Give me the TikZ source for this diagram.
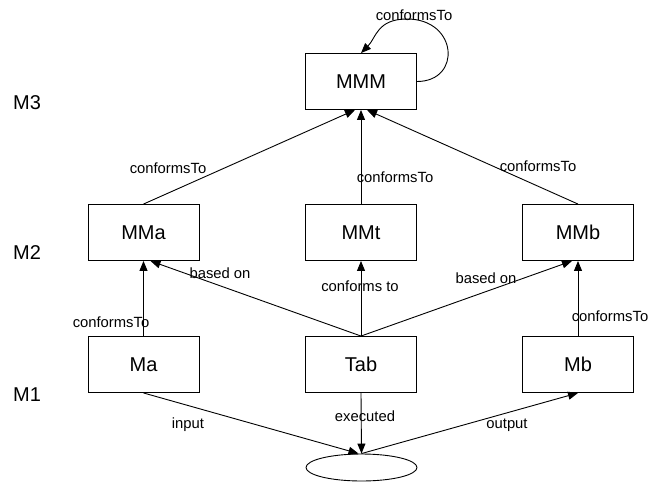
\documentclass[tikz,border=0pt]{standalone}
\usepackage{fontspec}
\setmainfont{Liberation Sans}
\usetikzlibrary{arrows.meta,shapes.geometric}

\tikzset{
  model/.style={draw, line width=0.9pt, minimum width=111pt, minimum height=56pt,
    inner sep=0pt, font=\fontsize{20}{24}\selectfont},
  level/.style={inner sep=0pt, font=\fontsize{20}{24}\selectfont},
  lbl/.style={inner sep=0pt, font=\fontsize{14.8}{17}\selectfont},
  rel/.style={line width=0.9pt, -{Triangle[length=10pt,width=8pt]}},
}

\begin{document}
\begin{tikzpicture}[x=1pt,y=-1pt]
  \useasboundingbox (0,0) rectangle (648,485);

  % meta-levels
  \node[level] (m3) at (27,103) {M3};
  \node[level] (m2) at (27,253) {M2};
  \node[level] (m1) at (27,395) {M1};

  % models
  \node[model] (MMM) at (361,81.5) {MMM};
  \node[model] (MMa) at (143.5,232.5) {MMa};
  \node[model] (MMt) at (361,232.5) {MMt};
  \node[model] (MMb) at (578,232.5) {MMb};
  \node[model] (Ma)  at (143.5,364.5) {Ma};
  \node[model] (Tab) at (361,364.5) {Tab};
  \node[model] (Mb)  at (578,364.5) {Mb};
  \node[draw, ellipse, line width=0.9pt, minimum width=111pt, minimum height=27pt,
        inner sep=0pt] (run) at (361.5,467.5) {};

  % self conformance of the meta-metamodel
  \coordinate (looptop) at (407,19);
  \draw[line width=0.9pt] (MMM.east) .. controls +(45,0) and +(51,0) .. (looptop);
  \draw[rel] (looptop) .. controls +(-30,0) and +(15,-15) .. (MMM.north);
  \node[lbl] (lloop) at (414,15) {conformsTo};

  % M2 -> M3
  \draw[rel] (MMa.north) -- ([xshift=-6pt]MMM.south);
  \draw[rel] (MMt.north) -- (MMM.south);
  \draw[rel] (MMb.north) -- ([xshift=6pt]MMM.south);
  \node[lbl] (l1) at (168,168) {conformsTo};
  \node[lbl] (l2) at (395,177) {conformsTo};
  \node[lbl] (l3) at (538,166) {conformsTo};

  % M1 -> M2
  \draw[rel] (Ma.north) -- (MMa.south);
  \draw[rel] (Tab.north) -- ([xshift=7pt]MMa.south);
  \draw[rel] (Tab.north) -- (MMt.south);
  \draw[rel] (Tab.north) -- ([xshift=-6pt]MMb.south);
  \draw[rel] (Mb.north) -- (MMb.south);
  \node[lbl] (l4) at (220,273) {based on};
  \node[lbl] (l5) at (486,278) {based on};
  \node[lbl] (l6) at (360,286) {conforms to};
  \node[lbl] (l7) at (111,322) {conformsTo};
  \node[lbl] (l8) at (610,316) {conformsTo};

  % transformation run
  \draw[rel] (Ma.south) -- ([xshift=-3pt]run.north);
  \draw[rel] (Tab.south) -- (run.north);
  \draw[rel] (run.north) -- (Mb.south);
  \node[lbl] (l9)  at (188,425) {input};
  \node[lbl] (l10) at (365,416) {executed};
  \node[lbl] (l11) at (507,425) {output};
\end{tikzpicture}
\end{document}
